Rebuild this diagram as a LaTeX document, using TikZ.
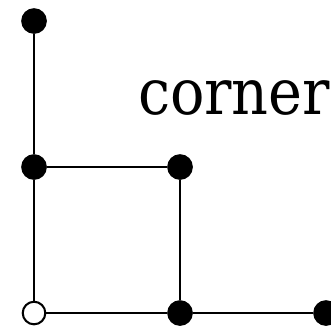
\documentclass[tikz,border=0pt]{standalone}
\usepackage{fontspec}
\setmainfont{DejaVu Serif Condensed}
\usetikzlibrary{positioning}

\begin{document}
\begin{tikzpicture}[x=1cm,y=1cm,line width=0.4pt]
    \tikzset{
      dotnode/.style={circle,fill=black,draw=black,inner sep=0pt,minimum size=4.6pt},
      opendot/.style={circle,fill=white,draw=black,inner sep=0pt,minimum size=4.4pt},
      labelnode/.style={font=\fontsize{12.4}{15}\selectfont,inner sep=0pt}
    }
    \useasboundingbox (-0.233,-0.116) rectangle (2.034,2.144);
    \coordinate (o) at (0,0);
    \node[dotnode](b1) at (1,0){};
    \node[dotnode](b2) at (2,0){};
    \node[dotnode](m0) at (0,1){};
    \node[dotnode](m1) at (1,1){};
    \node[dotnode](t0) at (0,2){};
    \node[labelnode](lbl) at (1.37,1.47){corner};

    \draw(o) -- (b1);
    \draw(b1) -- (b2);
    \draw(o) -- (m0);
    \draw(m0) -- (t0);
    \draw(m0) -- (m1);
    \draw(m1) -- (b1);
    \node[opendot](a) at (o){};
  \end{tikzpicture}
\end{document}
